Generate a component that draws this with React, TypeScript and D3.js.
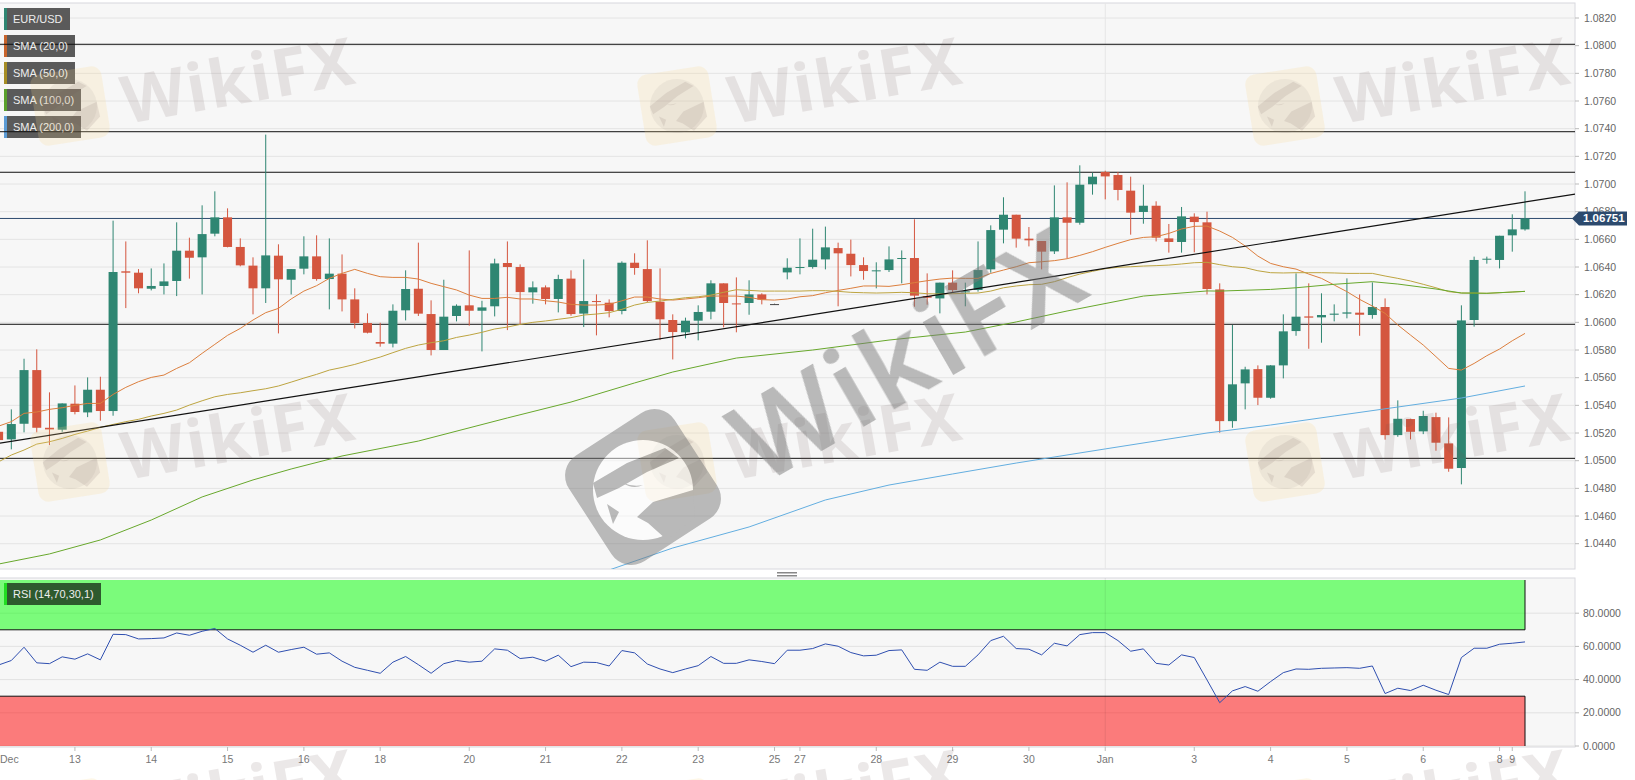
import { scaleLinear, line as d3Line, curveLinear } from "d3";

const opens = [
  1.05209, 1.05154, 1.05267, 1.05655, 1.05238, 1.05224, 1.05412, 1.05349, 1.05513, 1.05359,
  1.06369, 1.06359, 1.06243, 1.06263, 1.06299, 1.06518, 1.0647, 1.06641, 1.06759, 1.06545,
  1.0641, 1.06246, 1.06482, 1.06308, 1.06388, 1.06477, 1.06313, 1.06352, 1.06166, 1.05995,
  1.05858, 1.05846, 1.06087, 1.06243, 1.0606, 1.058, 1.06046, 1.06123, 1.06084, 1.06116,
  1.06429, 1.064, 1.06217, 1.06253, 1.06169, 1.06316, 1.06063, 1.06154, 1.06142, 1.06082,
  1.06431, 1.06385, 1.06149, 1.06017, 1.05928, 1.06012, 1.06077, 1.06282, 1.06137, 1.0614,
  1.06202, 1.06132, 1.06361, 1.06395, 1.064, 1.06455, 1.06537, 1.06496, 1.06414, 1.06369,
  1.06378, 1.0646, 1.06465, 1.0619, 1.06173, 1.06287, 1.06217, 1.06234, 1.06383, 1.0667,
  1.06778, 1.06605, 1.06588, 1.06513, 1.06759, 1.0672, 1.06998, 1.07087, 1.07065, 1.06952,
  1.06798, 1.06843, 1.06607, 1.06581, 1.06764, 1.06723, 1.06238, 1.05286, 1.05559, 1.05662,
  1.05455, 1.05689, 1.05937, 1.06043, 1.06036, 1.06055, 1.06063, 1.0607, 1.06053, 1.06111,
  1.05185, 1.05301, 1.05212, 1.05315, 1.05125, 1.04947, 1.06017, 1.06453, 1.06451, 1.06629,
  1.06672,
];
const closes = [
  1.05149, 1.05265, 1.05655, 1.05238, 1.05226, 1.05414, 1.05352, 1.05513, 1.05359, 1.06364,
  1.06359, 1.06246, 1.06263, 1.06296, 1.06518, 1.06467, 1.06638, 1.06759, 1.06545, 1.06412,
  1.06246, 1.06484, 1.06311, 1.06385, 1.06477, 1.06313, 1.06352, 1.06166, 1.05995, 1.05925,
  1.05846, 1.06084, 1.06241, 1.06063, 1.058, 1.06041, 1.0612, 1.06084, 1.06108, 1.06426,
  1.064, 1.06219, 1.06253, 1.06169, 1.06313, 1.0606, 1.06154, 1.06147, 1.06082, 1.06431,
  1.06393, 1.06154, 1.06022, 1.0593, 1.06012, 1.06075, 1.06282, 1.0614, 1.0613, 1.06202,
  1.06164, 1.06132, 1.06395, 1.064, 1.06453, 1.06542, 1.06499, 1.06414, 1.06371, 1.06376,
  1.06455, 1.06465, 1.06193, 1.06178, 1.06287, 1.06234, 1.06224, 1.06378, 1.06667, 1.06778,
  1.06605, 1.06593, 1.06511, 1.06759, 1.0672, 1.06995, 1.07053, 1.07055, 1.06957, 1.06793,
  1.06843, 1.06612, 1.06581, 1.06766, 1.06725, 1.06241, 1.05286, 1.05552, 1.0566, 1.05455,
  1.05689, 1.05935, 1.06041, 1.06034, 1.06053, 1.06063, 1.06072, 1.06055, 1.06111, 1.05185,
  1.05303, 1.05209, 1.05323, 1.0513, 1.04942, 1.06014, 1.06451, 1.0646, 1.06626, 1.06672,
  1.06751,
];
const highs = [
  1.05233, 1.05371, 1.05737, 1.05805, 1.05494, 1.05414, 1.05544, 1.05602, 1.05607, 1.06735,
  1.06585, 1.06385, 1.0639, 1.06426, 1.06723, 1.06612, 1.06846, 1.06947, 1.06824, 1.06607,
  1.0647, 1.07357, 1.06564, 1.06385, 1.06622, 1.06629, 1.06607, 1.06491, 1.06246, 1.06065,
  1.05997, 1.0613, 1.06376, 1.06576, 1.06159, 1.06308, 1.0613, 1.0652, 1.06156, 1.0646,
  1.06585, 1.06419, 1.06296, 1.06267, 1.06344, 1.06376, 1.06455, 1.06202, 1.06166, 1.06441,
  1.06499, 1.06593, 1.0639, 1.06058, 1.06034, 1.06123, 1.06304, 1.06282, 1.06325, 1.06304,
  1.0621, 1.06135, 1.06463, 1.06607, 1.06677, 1.06692, 1.06576, 1.06598, 1.0647, 1.06434,
  1.06549, 1.0652, 1.06745, 1.06354, 1.06287, 1.06376, 1.06287, 1.06585, 1.06701, 1.06904,
  1.06778, 1.06689, 1.06588, 1.0699, 1.07012, 1.07135, 1.07082, 1.07096, 1.07087, 1.07053,
  1.06995, 1.06875, 1.06711, 1.06834, 1.06788, 1.068, 1.06282, 1.05981, 1.05679, 1.05689,
  1.05691, 1.06058, 1.06354, 1.06282, 1.0621, 1.0613, 1.06318, 1.06202, 1.06289, 1.06173,
  1.05436, 1.05303, 1.05361, 1.05347, 1.05313, 1.06123, 1.06475, 1.06475, 1.06626, 1.06781,
  1.06947,
];
const lows = [
  1.05137, 1.05082, 1.05205, 1.05205, 1.05113, 1.05209, 1.05335, 1.05315, 1.05289, 1.05325,
  1.06103, 1.0621, 1.06231, 1.06202, 1.0619, 1.06316, 1.06202, 1.06622, 1.06542, 1.06405,
  1.06058, 1.0614, 1.0592, 1.06202, 1.06347, 1.06301, 1.06094, 1.06079, 1.05956, 1.0592,
  1.05824, 1.05819, 1.06014, 1.06046, 1.05761, 1.058, 1.06007, 1.05976, 1.0579, 1.06043,
  1.05944, 1.05988, 1.06135, 1.0613, 1.06072, 1.06048, 1.05966, 1.05906, 1.06036, 1.06058,
  1.06344, 1.06144, 1.05872, 1.05732, 1.05884, 1.0587, 1.06022, 1.05964, 1.05928, 1.06055,
  1.0613, 1.0613, 1.06311, 1.06347, 1.06388, 1.06383, 1.06116, 1.06332, 1.06308, 1.06246,
  1.06364, 1.06282, 1.06113, 1.06128, 1.06065, 1.06214, 1.06116, 1.06222, 1.06359, 1.06571,
  1.0654, 1.06549, 1.06383, 1.06494, 1.06463, 1.06706, 1.06923, 1.06889, 1.06882, 1.06634,
  1.06713, 1.06585, 1.06504, 1.06504, 1.06506, 1.06202, 1.05202, 1.05238, 1.05371, 1.05402,
  1.05448, 1.05595, 1.05903, 1.05809, 1.05853, 1.06007, 1.06029, 1.05903, 1.06026, 1.05152,
  1.05173, 1.05154, 1.05192, 1.05072, 1.0492, 1.04829, 1.05969, 1.06424, 1.0639, 1.06511,
  1.06663,
];

const sma20 = [
  1.0525, 1.05282, 1.05342, 1.05352, 1.05371, 1.05383, 1.054, 1.05414, 1.05414, 1.05479,
  1.0553, 1.05571, 1.05602, 1.05619, 1.05667, 1.05708, 1.05776, 1.05841, 1.05906, 1.05956,
  1.06017, 1.0607, 1.06101, 1.06169, 1.06226, 1.06265, 1.06318, 1.06354, 1.06383, 1.06354,
  1.0633, 1.06325, 1.06325, 1.06313, 1.06282, 1.06258, 1.06234, 1.06197, 1.06173, 1.06173,
  1.06181, 1.06169, 1.06169, 1.06156, 1.06147, 1.0613, 1.06125, 1.06125, 1.0613, 1.06156,
  1.06183, 1.06183, 1.06169, 1.06161, 1.06169, 1.06178, 1.0619, 1.0619, 1.0619, 1.06181,
  1.06164, 1.06161, 1.06169, 1.06185, 1.06193, 1.06214, 1.06231, 1.06246, 1.06263, 1.06263,
  1.0626, 1.06272, 1.06287, 1.06301, 1.06313, 1.0632, 1.06318, 1.06318, 1.06354, 1.06378,
  1.06402, 1.06431, 1.06438, 1.06446, 1.0646, 1.06484, 1.06511, 1.06542, 1.06571, 1.06598,
  1.06614, 1.06619, 1.06643, 1.06675, 1.06694, 1.06696, 1.0666, 1.06614, 1.06552, 1.06479,
  1.06426, 1.06402, 1.06385, 1.06349, 1.06318, 1.0627, 1.06222, 1.06166, 1.06118, 1.06065,
  1.05981, 1.05908, 1.05836, 1.05752, 1.05667, 1.05655, 1.05703, 1.05759, 1.05807, 1.05867,
  1.0592,
];
const sma50 = [
  1.04992, 1.05041, 1.05077, 1.0512, 1.05137, 1.05161, 1.0519, 1.05214, 1.05241, 1.05262,
  1.05282, 1.05299, 1.05323, 1.05342, 1.05366, 1.05402, 1.05433, 1.05462, 1.05479, 1.05491,
  1.05506, 1.0552, 1.0554, 1.05568, 1.05597, 1.05624, 1.05655, 1.05674, 1.05696, 1.05723,
  1.05749, 1.05781, 1.05812, 1.05836, 1.05853, 1.05867, 1.05891, 1.05908, 1.05928, 1.05952,
  1.05966, 1.05985, 1.06, 1.0601, 1.06022, 1.06034, 1.06053, 1.0606, 1.0607, 1.06094,
  1.06125, 1.06144, 1.06154, 1.06166, 1.06178, 1.06185, 1.06197, 1.06217, 1.06236, 1.06231,
  1.06226, 1.06226, 1.06226, 1.06226, 1.06229, 1.06229, 1.06224, 1.06217, 1.06214, 1.06212,
  1.06214, 1.06217, 1.06214, 1.06207, 1.06205, 1.06207, 1.0621, 1.06212, 1.06226, 1.0625,
  1.06263, 1.06272, 1.06275, 1.06294, 1.06323, 1.06349, 1.06369, 1.06388, 1.06398, 1.06402,
  1.06407, 1.0641, 1.06414, 1.06422, 1.06431, 1.06434, 1.06417, 1.06402, 1.06395, 1.06373,
  1.06359, 1.06357, 1.06359, 1.06359, 1.06359, 1.06357, 1.06354, 1.06354, 1.06354, 1.06335,
  1.06318, 1.06299, 1.06275, 1.0625, 1.06222, 1.06212, 1.06212, 1.0621, 1.06214, 1.06219,
  1.06224,
];
const sma100Index = [0, 4, 8, 12, 16, 20, 23, 27, 33, 40, 45, 50, 53, 58, 64, 70, 76, 80, 84, 90, 95, 96, 100, 102, 105, 108, 110, 113, 115, 117, 120];
const sma100 = [
  1.04253, 1.04326, 1.04427, 1.04571, 1.04738, 1.04861, 1.0494, 1.05034, 1.05142, 1.05309,
  1.05424, 1.05562, 1.05641, 1.05742, 1.058, 1.05872, 1.0593, 1.06003, 1.06082, 1.0619,
  1.06227, 1.06226, 1.06238, 1.0625, 1.06275, 1.06294, 1.06277, 1.06241, 1.06212, 1.0621,
  1.06224,
];
const sma200Index = [48, 53, 59, 65, 70, 75, 80, 87, 95, 100, 105, 110, 115, 120];
const sma200 = [
  1.0421, 1.04369, 1.04521, 1.04716, 1.04824, 1.04904, 1.04983, 1.05085, 1.052, 1.05258,
  1.05323, 1.05388, 1.05453, 1.0554,
];
const rsi = [
  48.8, 51.5, 59.5, 50.1, 49.6, 53.7, 52.3, 55.5, 51.9, 67.3,
  67.1, 64.5, 64.7, 65.1, 68.1, 66.7, 69.1, 70.8, 64.5, 60.7,
  56.5, 60.7, 56.5, 58.1, 59.5, 55.3, 56.1, 51.1, 47.4, 45.6,
  43.8, 50.5, 53.9, 49.0, 43.8, 49.6, 51.5, 50.5, 51.1, 58.5,
  57.7, 52.7, 53.5, 51.1, 54.7, 47.8, 50.5, 50.3, 48.2, 57.5,
  56.1, 49.4, 46.4, 44.2, 46.4, 48.4, 53.9, 49.8, 49.8, 51.9,
  50.9, 49.6, 57.7, 57.7, 58.7, 61.5, 60.1, 56.3, 54.3, 54.7,
  57.5, 57.9, 46.2, 45.6, 50.5, 48.0, 48.0, 54.9, 63.5, 66.1,
  58.7, 58.3, 54.9, 61.9, 60.3, 67.1, 68.3, 68.3, 63.5, 57.1,
  58.5, 49.8, 48.8, 54.9, 53.3, 39.8, 26.1, 33.2, 35.8, 33.0,
  38.8, 44.2, 46.4, 46.2, 46.8, 47.0, 47.2, 46.8, 48.2, 31.6,
  34.8, 33.4, 36.6, 33.6, 31.0, 53.3, 58.9, 58.9, 61.3, 61.9,
  62.7,
];

const levels = [1.0801, 1.07378, 1.07085, 1.05986, 1.05017];
const trendIndex = [0, 124];
const trendPrice = [1.05126, 1.06928];
const lastPrice = 1.06751;
const priceTicks = [1.044, 1.046, 1.048, 1.05, 1.052, 1.054, 1.056, 1.058, 1.06, 1.062, 1.064, 1.066, 1.068, 1.07, 1.072, 1.074, 1.076, 1.078, 1.08, 1.082];
const rsiTicks = [0, 20, 40, 60, 80];
const dayIndex = [6, 12, 18, 24, 30, 37, 43, 49, 55, 61, 63, 69, 75, 81, 87, 94, 100, 106, 112, 118, 119];
const dayLabels = ["13", "14", "15", "16", "18", "20", "21", "22", "23", "25", "27", "28", "29", "30", "Jan", "3", "4", "5", "6", "8", "9"];
const legendNames = ["EUR/USD", "SMA (20,0)", "SMA (50,0)", "SMA (100,0)", "SMA (200,0)"];
const legendColors = ["#2f8672", "#c8642c", "#a68d24", "#5aa02c", "#5b9bd5"];
const legendWidths = [66, 71, 71, 77, 77];
const wmColumns = [70, 677, 1285];
const wmRows = [106, 462, 818];

const FONT = "'Liberation Sans', Arial, sans-serif";
const GREEN = "#2f8672";
const RED = "#d4563f";
const PLOT_RIGHT = 1575;
const LAST_X = 1525;

const x = scaleLinear().domain([0, 120]).range([-1.4, LAST_X]);
const y = scaleLinear().domain([1.044, 1.082]).range([543.7, 18]);
const yRsi = scaleLinear().domain([0, 100]).range([746, 580]);

const pricePath = (idx: number[], vals: number[]) =>
  d3Line<number>()
    .x((d) => x(d))
    .y((_, i) => y(vals[i]))
    .curve(curveLinear)(idx) ?? "";

const allIndex = closes.map((_, i) => i);

// the eagle inside the WikiFX logo, drawn around 0,0 with a 50 radius
const Eagle = ({ fill }: { fill: string }) => (
  <g fill={fill}>
    <path d="M-50,-7 L-16,-27 L22,-42 L36,-32 L4,-18 L-24,-2 L-46,8 Z" />
    <path d="M-6,27 L10,12 L50,0 L52,28 L24,50 L5,33 Z" />
    <path d="M-36,14 L-30,34 L-24,22 Z" />
    <path d="M-20,-7 Q-10,0 0,-5 Q-10,-3 -20,-7 Z" />
  </g>
);

const SmallMark = ({ cx, cy }: { cx: number; cy: number }) => (
  <g>
    <g transform={`translate(${cx},${cy}) rotate(-9)`}>
      <rect x={-36} y={-36} width={72} height={72} rx={10} fill="#fbd98a" opacity={0.2} />
      <circle r={27} fill="#8a7a7a" opacity={0.09} />
      <g transform="scale(0.54)" opacity={0.12}>
        <Eagle fill="#6e5555" />
      </g>
    </g>
    <text
      transform={`translate(${cx + 56},${cy + 18}) rotate(-10)`}
      fontFamily="'Noto Sans', sans-serif"
      fontWeight={700}
      fontSize={66}
      letterSpacing={2}
      fill="#6e5555"
      opacity={0.13}
    >
      WikiFX
    </text>
  </g>
);

const BigMark = () => (
  <g opacity={0.5} fill="#7a7a7a">
    <g transform="translate(643,487) rotate(-33)">
      <rect x={-63} y={-63} width={126} height={126} rx={24} />
    </g>
    <g transform="translate(643,490)">
      <circle r={50} fill="#fff" />
      <Eagle fill="#7a7a7a" />
    </g>
    <text
      transform="translate(761,486) rotate(-30)"
      fontFamily="'Noto Sans', sans-serif"
      fontWeight={600}
      fontSize={112}
      letterSpacing={3}
    >
      WikiFX
    </text>
  </g>
);

export default function App() {
  return (
    <svg
      width={1635}
      height={780}
      style={{ position: "absolute", left: 0, top: 0, display: "block", background: "#fff" }}
    >
      <defs>
        <clipPath id="pricePane">
          <rect x={0} y={3} width={PLOT_RIGHT} height={566} />
        </clipPath>
      </defs>

      {/* price pane */}
      <rect x={-2} y={3} width={PLOT_RIGHT + 2} height={566} fill="#f7f7f7" stroke="#d8d8de" />
      {priceTicks.map((t) => (
        <g key={t}>
          <line x1={0} x2={PLOT_RIGHT} y1={y(t)} y2={y(t)} stroke="#e4e4e4" />
          <line x1={PLOT_RIGHT} x2={PLOT_RIGHT + 4} y1={y(t)} y2={y(t)} stroke="#bbb" />
          <text x={1584} y={y(t)} dy="0.35em" fontFamily={FONT} fontSize={10.5} fill="#666">
            {t.toFixed(4)}
          </text>
        </g>
      ))}
      <line x1={x(87)} x2={x(87)} y1={3} y2={569} stroke="#e6e6e6" />

      {/* legend */}
      {legendNames.map((name, i) => (
        <g key={name}>
          <rect x={4} y={8 + i * 27} width={legendWidths[i]} height={22} fill="#5a5a5a" />
          <rect x={4} y={8 + i * 27} width={3} height={22} fill={legendColors[i]} />
        </g>
      ))}

      <g clipPath="url(#pricePane)">
        {levels.map((l) => (
          <line key={l} x1={0} x2={PLOT_RIGHT} y1={y(l)} y2={y(l)} stroke="#111" strokeWidth={1} />
        ))}
        <line x1={0} x2={PLOT_RIGHT} y1={y(lastPrice)} y2={y(lastPrice)} stroke="#2c4a6e" />

        {closes.map((c, i) => {
          const o = opens[i];
          const color = c === o ? "#444" : c > o ? GREEN : RED;
          const top = y(Math.max(o, c));
          const h = Math.max(1, y(Math.min(o, c)) - top);
          return (
            <g key={i}>
              <line x1={x(i)} x2={x(i)} y1={y(highs[i])} y2={y(lows[i])} stroke={color} />
              <rect x={x(i) - 4.5} y={top} width={9} height={h} fill={color} />
            </g>
          );
        })}

        <path d={pricePath(allIndex, sma20)} fill="none" stroke="#dc7f3e" strokeWidth={1} />
        <path d={pricePath(allIndex, sma50)} fill="none" stroke="#bda440" strokeWidth={1} />
        <path d={pricePath(sma100Index, sma100)} fill="none" stroke="#68a82c" strokeWidth={1} />
        <path d={pricePath(sma200Index, sma200)} fill="none" stroke="#63aee0" strokeWidth={1} />
        <path d={pricePath(trendIndex, trendPrice)} fill="none" stroke="#111" strokeWidth={1.2} />
      </g>

      {legendNames.map((name, i) => (
        <text key={name} x={13} y={19 + i * 27} dy="0.35em" fontFamily={FONT} fontSize={11} fill="#eee">
          {name}
        </text>
      ))}

      {/* last price tag */}
      <path
        d={`M1572,${y(lastPrice)} L1579,${y(lastPrice) - 7} L1627,${y(lastPrice) - 7} L1627,${y(lastPrice) + 7} L1579,${y(lastPrice) + 7} Z`}
        fill="#2c4a6e"
      />
      <text x={1583} y={y(lastPrice)} dy="0.35em" fontFamily={FONT} fontSize={11.5} fontWeight={700} fill="#fff">
        {lastPrice.toFixed(5)}
      </text>

      {/* pane splitter */}
      <rect x={777} y={572} width={20} height={1.5} fill="#888" />
      <rect x={777} y={575} width={20} height={1.5} fill="#888" />

      {/* rsi pane */}
      <rect x={-2} y={578} width={PLOT_RIGHT + 2} height={169} fill="#f7f7f7" stroke="#d8d8de" />
      {rsiTicks.map((t) => (
        <g key={t}>
          <line x1={0} x2={PLOT_RIGHT} y1={yRsi(t)} y2={yRsi(t)} stroke="#e2e2e2" />
          <line x1={PLOT_RIGHT} x2={PLOT_RIGHT + 4} y1={yRsi(t)} y2={yRsi(t)} stroke="#bbb" />
          <text x={1583} y={yRsi(t)} dy="0.35em" fontFamily={FONT} fontSize={10.5} fill="#666">
            {t.toFixed(4)}
          </text>
        </g>
      ))}
      <rect x={0} y={yRsi(100)} width={LAST_X} height={yRsi(70) - yRsi(100)} fill="#00ff00" fillOpacity={0.5} />
      <rect x={0} y={yRsi(30)} width={LAST_X} height={yRsi(0) - yRsi(30)} fill="#ff0000" fillOpacity={0.5} />
      <line x1={0} x2={LAST_X} y1={yRsi(70)} y2={yRsi(70)} stroke="#111" />
      <line x1={0} x2={LAST_X} y1={yRsi(30)} y2={yRsi(30)} stroke="#111" />
      <line x1={LAST_X} x2={LAST_X} y1={yRsi(100)} y2={yRsi(70)} stroke="#111" />
      <line x1={LAST_X} x2={LAST_X} y1={yRsi(30)} y2={yRsi(0)} stroke="#111" />
      <line x1={x(87)} x2={x(87)} y1={578} y2={747} stroke="#000" strokeOpacity={0.08} />
      <path
        d={
          d3Line<number>()
            .x((_, i) => x(i))
            .y((d) => yRsi(d))(rsi) ?? ""
        }
        fill="none"
        stroke="#2f4fb0"
        strokeWidth={1}
      />
      <rect x={4} y={583} width={97} height={22} fill="#2e5a2e" />
      <rect x={4} y={583} width={3} height={22} fill="#22dd22" />
      <text x={13} y={594} dy="0.35em" fontFamily={FONT} fontSize={11} fill="#eee">
        RSI (14,70,30,1)
      </text>

      {/* time axis */}
      {dayIndex.map((d, i) => (
        <g key={d}>
          <line x1={x(d)} x2={x(d)} y1={747} y2={751} stroke="#bbb" />
          <text x={x(d)} y={763} textAnchor="middle" fontFamily={FONT} fontSize={10.5} fill="#777">
            {dayLabels[i]}
          </text>
        </g>
      ))}
      <text x={0} y={763} fontFamily={FONT} fontSize={10.5} fill="#777">
        Dec
      </text>

      {/* watermark */}
      {wmRows.map((r) => wmColumns.map((c) => <SmallMark key={`${r}-${c}`} cx={c} cy={r} />))}
      <BigMark />
    </svg>
  );
}
